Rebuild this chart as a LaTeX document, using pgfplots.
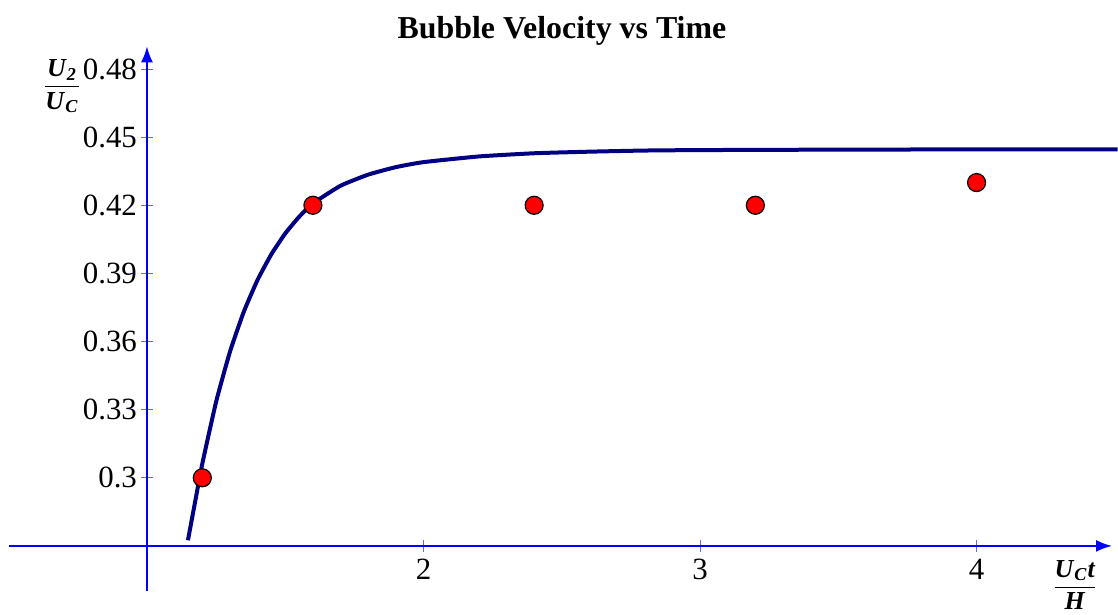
\documentclass[border=0pt]{standalone}
\usepackage{fontspec}
\setmainfont{Liberation Serif}
\usepackage{amsmath}
\usepackage{pgfplots}
\pgfplotsset{compat=1.18}
\usetikzlibrary{arrows.meta}
\definecolor{curveblue}{RGB}{0,0,128}
\newcommand\bi[1]{\textbf{\textit{#1}}}
\begin{document}
\begin{tikzpicture}
\begin{axis}[
  scale only axis, width=551.6bp, height=272.5bp,
  xmin=0.5, xmax=4.49, ymin=0.25, ymax=0.49,
  axis x line=bottom, axis y line=left,
  axis x line shift=-22.71bp, axis y line shift=-69.1bp,
  axis line style={draw=blue, line width=1bp, -{Latex[length=8bp,width=6bp]}},
  tick style={draw=blue!60, line width=0.5bp},
  tick align=center, major tick length=6bp,
  xtick={2,3,4}, xticklabels={2,3,4},
  ytick={0.3,0.33,0.36,0.39,0.42,0.45,0.48},
  yticklabels={0.3,0.33,0.36,0.39,0.42,0.45,0.48},
  /pgf/number format/assume math mode=true,
  ticklabel style={font=\fontsize{15.5}{18}\selectfont},
  yticklabel style={xshift=1.5bp},
  clip=false,
  title={\textbf{Bubble Velocity vs Time}},
  every axis title/.style={at={(rel axis cs:0.5014,1.028)}, anchor=center, font=\fontsize{16}{19}\selectfont},
  xlabel={$\dfrac{\bi{U}_{\bi{C}}\bi{t}}{\bi{H}}$},
  ylabel={$\dfrac{\bi{U}_{\bi{2}}}{\bi{U}_{\bi{C}}}$},
  every axis x label/.style={at={(rel axis cs:0.9664,0.0116)}, anchor=center, font=\fontsize{13}{15}\selectfont},
  every axis y label/.style={at={(rel axis cs:0.0483,0.9265)}, anchor=center, font=\fontsize{13}{15}\selectfont},
]
% fitted velocity curve
\addplot[curveblue, line width=2bp, smooth, tension=0.3] coordinates {
  (1.148,0.2725) (1.175,0.2901) (1.2,0.3062) (1.25,0.3335) (1.3,0.3555)
  (1.35,0.3731) (1.4,0.3872) (1.45,0.3985) (1.5,0.4076) (1.55,0.4149)
  (1.6,0.4208) (1.7,0.4286) (1.8,0.4335) (1.9,0.4368) (2.0,0.4390)
  (2.2,0.4415) (2.4,0.4429) (2.6,0.4436) (2.8,0.4441) (3.0,0.4443)
  (3.5,0.4445) (4.0,0.4446) (4.51,0.4446)
};
% measured velocities
\addplot[only marks, mark=*, mark size=4.5bp, mark options={fill=red, draw=black, line width=0.6bp}] coordinates {
  (1.2,0.30) (1.6,0.42) (2.4,0.42) (3.2,0.42) (4.0,0.43)
};
\coordinate (bl) at (rel axis cs:-0.00793,-0.04165);
\coordinate (tr) at (rel axis cs:1.00539,1.08495);
\end{axis}
\pgfresetboundingbox
\path[use as bounding box] (bl) rectangle (tr);
\end{tikzpicture}
\end{document}
